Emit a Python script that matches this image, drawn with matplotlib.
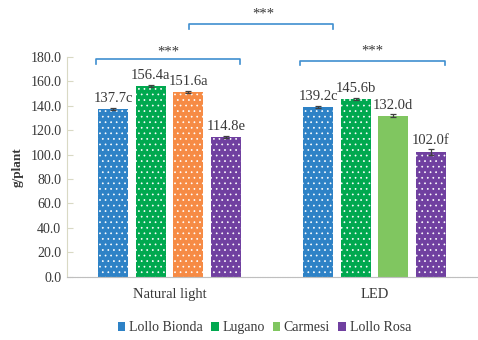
import matplotlib
matplotlib.use('Agg')
import matplotlib.pyplot as plt
import matplotlib.patches as mpatches
import numpy as np

plt.rcParams['font.family'] = 'Liberation Serif'
plt.rcParams['hatch.linewidth'] = 0.5

# data
groups = ['Natural light', 'LED']
cultivars = ['Lollo Bionda', 'Lugano', 'Carmesi', 'Lollo Rosa']
natural = [137.7, 156.4, 151.6, 114.8]
led = [139.2, 145.6, 132.0, 102.0]
natural_err = [0.9, 0.7, 0.8, 0.8]
led_err = [0.6, 0.9, 1.0, 2.4]
natural_lbl = ['137.7c', '156.4a', '151.6a', '114.8e']
led_lbl = ['139.2c', '145.6b', '132.0d', '102.0f']

blue = '#2E82C6'
green = '#00A84F'
orange = '#F68B45'
purple = '#7040A0'
lgreen = '#80C660'
txt = '#383838'
brk = '#3F8FD0'

nat_colors = [blue, green, orange, purple]
led_colors = [blue, green, lgreen, purple]
led_hatch = ['...', '...', None, '...']

fig = plt.figure(figsize=(4.78, 3.4), dpi=100)
ax = fig.add_axes([0.140, 0.1862, 0.858, 0.646])

x = np.arange(len(groups))
step = 0.183
w = 0.146
offs = (np.arange(4) - 1.5) * step

for i in range(4):
    # natural light
    ax.bar(x[0] + offs[i], natural[i], w, color=nat_colors[i], linewidth=0, zorder=2)
    ax.bar(x[0] + offs[i], natural[i], w, facecolor='none', edgecolor='white',
           hatch='...', linewidth=0, zorder=3)
    # LED
    ax.bar(x[1] + offs[i], led[i], w, color=led_colors[i], linewidth=0, zorder=2)
    if led_hatch[i]:
        ax.bar(x[1] + offs[i], led[i], w, facecolor='none', edgecolor='white',
               hatch=led_hatch[i], linewidth=0, zorder=3)
    ax.errorbar(x[0] + offs[i], natural[i], yerr=natural_err[i], fmt='none',
                ecolor='#404040', elinewidth=0.9, capsize=2.5, capthick=0.9, zorder=4)
    ax.errorbar(x[1] + offs[i], led[i], yerr=led_err[i], fmt='none',
                ecolor='#404040', elinewidth=0.9, capsize=2.5, capthick=0.9, zorder=4)
    ax.annotate(natural_lbl[i], (x[0] + offs[i], natural[i] + natural_err[i]),
                xytext=(0, 2), textcoords='offset points', ha='center', va='bottom',
                fontsize=10.5, color=txt)
    ax.annotate(led_lbl[i], (x[1] + offs[i], led[i] + led_err[i]),
                xytext=(0, 2), textcoords='offset points', ha='center', va='bottom',
                fontsize=10.5, color=txt)

ax.set_xlim(-0.5, 1.5)
ax.set_ylim(0, 180)
ax.set_yticks(np.arange(0, 181, 20))
ax.set_yticklabels([f'{v:.1f}' for v in np.arange(0, 181, 20)])
ax.set_xticks(x)
ax.set_xticklabels(groups)
ax.tick_params(axis='x', length=0, pad=8, labelsize=10.5, labelcolor=txt)
ax.tick_params(axis='y', direction='in', length=4, color='#D9D9C4', pad=4,
               labelsize=10, labelcolor=txt)
for s in ['top', 'right']:
    ax.spines[s].set_visible(False)
ax.spines['left'].set_color('#D9D9C4')
ax.spines['bottom'].set_color('#BFBFBF')
ax.spines['bottom'].set_linestyle((0, (1, 0.5)))
ax.set_ylabel('g/plant', fontsize=9.5, fontweight='bold', color=txt, labelpad=5)


def bracket(x1, x2, y, drop, star_y, star_x=None):
    ax.plot([x1, x1, x2, x2], [y - drop, y, y, y - drop], color=brk, lw=1.2,
            clip_on=False, zorder=5)
    sx = (x1 + x2) / 2 if star_x is None else star_x
    ax.text(sx, star_y, '***', ha='center', va='center', fontsize=10.5,
            color=txt, clip_on=False)


bracket(-0.359, 0.344, 178.4, 4, 184.0)
bracket(0.637, 1.344, 176.9, 3.5, 185.0)
bracket(0.095, 0.798, 207.0, 4, 215.5, star_x=0.46)

handles = [mpatches.Patch(facecolor=c, edgecolor='none') for c in [blue, green, lgreen, purple]]
fig.legend(handles, cultivars, loc='center', bbox_to_anchor=(0.553, 0.036), ncol=4,
           frameon=False, prop={'family': 'Liberation Serif', 'size': 10},
           handlelength=0.55, handleheight=0.55,
           handletextpad=0.25, columnspacing=0.6, labelcolor=txt)

fig.savefig('out.png', dpi=100, facecolor='white')
